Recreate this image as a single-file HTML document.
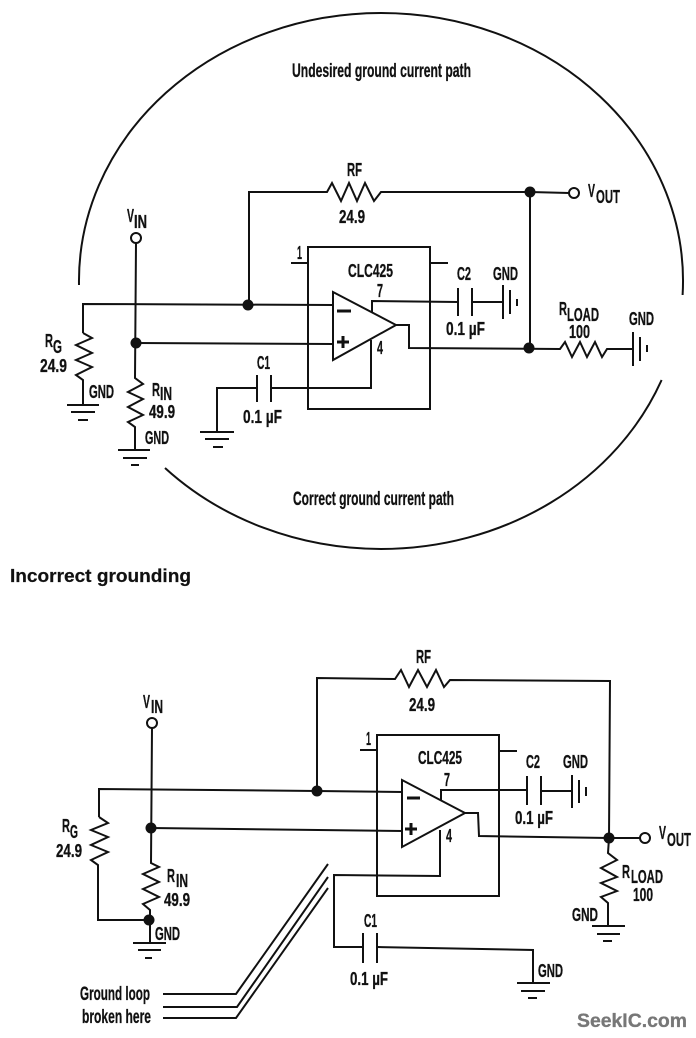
<!DOCTYPE html>
<html><head><meta charset="utf-8"><style>
html,body{margin:0;padding:0;background:#fff}
svg{display:block}
text{font-family:"Liberation Sans",sans-serif;font-weight:bold;font-size:18px;fill:#111;stroke:#111;stroke-width:.3}
.s{font-size:19px}
path,polyline,line{fill:none;stroke:#111;stroke-width:2}
circle{fill:#111;stroke:none}
circle.o{fill:#fff;stroke:#111;stroke-width:2}
</style></head><body>
<svg width="696" height="1038" viewBox="0 0 696 1038" xmlns="http://www.w3.org/2000/svg">
<!-- top diagram -->
<path d="M79 285A302 268 0 0 1 381 13A302 268 0 0 1 682.6 295" />
<path d="M661.6 380A302 268 0 0 1 381 549A302 268 0 0 1 165 468" />
<polyline points="83,333 83,304 333,305"/>
<polyline points="249,305 249,192 327,192 332,183 341,201 349,183 357,201 365,183 374,201 381,192 530,192 569,193"/>
<polyline points="530,192 530,348"/>
<polyline points="83,333 92,338 76,345 92,353 76,360 92,367 76,375 83,380 83,405"/>
<polyline points="136,243 135,378 143,384 128,392 143,399 128,407 143,415 128,422 135,427 135,450"/>
<polyline points="136,343 333,344"/>
<polygon points="333,292 333,360 396,325" fill="none" stroke="#111" stroke-width="2"/>
<rect x="308" y="247" width="122" height="162" fill="none" stroke="#111" stroke-width="2"/>
<line x1="291" y1="263" x2="308" y2="263"/><line x1="430" y1="263" x2="448" y2="263"/>
<polyline points="372,313 372,301 458,302"/>
<line x1="458" y1="288" x2="458" y2="316"/><line x1="472" y1="288" x2="472" y2="316"/>
<line x1="472" y1="302" x2="503" y2="302" />
<line x1="503" y1="285" x2="503" y2="319"/><line x1="510" y1="290" x2="510" y2="314"/><line x1="517" y1="299" x2="517" y2="306"/>
<polyline points="371,340 371,388 272,388"/>
<line x1="257" y1="375" x2="257" y2="402"/><line x1="271" y1="375" x2="271" y2="402"/>
<polyline points="257,388 217,388 217,432"/>
<polyline points="396,325 409,325 409,348 560,349 565,342 572,357 580,342 587,357 595,342 602,357 607,349 633,349"/>
<line x1="633" y1="332" x2="633" y2="366"/><line x1="640" y1="337" x2="640" y2="361"/><line x1="647" y1="345" x2="647" y2="352"/>
<line x1="67" y1="405" x2="99" y2="405"/><line x1="71" y1="412" x2="95" y2="412"/><line x1="78" y1="420" x2="88" y2="420"/>
<line x1="118" y1="450" x2="150" y2="450"/><line x1="123" y1="458" x2="147" y2="458"/><line x1="131" y1="465" x2="139" y2="465"/>
<line x1="200" y1="432" x2="234" y2="432"/><line x1="205" y1="439" x2="229" y2="439"/><line x1="213" y1="447" x2="223" y2="447"/>
<circle cx="248" cy="305" r="5.5"/><circle cx="136" cy="343" r="5.5"/><circle cx="530" cy="192" r="5.5"/><circle cx="529" cy="348" r="5.5"/>
<circle class="o" cx="136" cy="238" r="5"/><circle class="o" cx="574" cy="193" r="5"/>
<line x1="337" y1="311" x2="351" y2="311" style="stroke-width:3"/>
<line x1="337" y1="342" x2="349" y2="342" style="stroke-width:3"/><line x1="343" y1="336" x2="343" y2="348" style="stroke-width:3"/>

<text class="s" x="292" y="77" textLength="179" lengthAdjust="spacingAndGlyphs">Undesired ground current path</text>
<text class="s" x="293" y="505" textLength="161" lengthAdjust="spacingAndGlyphs">Correct ground current path</text>
<text x="10" y="582" textLength="181" lengthAdjust="spacingAndGlyphs" style="font-size:18px;stroke-width:.2">Incorrect grounding</text>
<text x="347" y="176" textLength="15" lengthAdjust="spacingAndGlyphs">RF</text>
<text x="339" y="223" textLength="26" lengthAdjust="spacingAndGlyphs">24.9</text>
<text x="127" y="222" textLength="7" lengthAdjust="spacingAndGlyphs">V</text>
<text x="134" y="228" textLength="13" lengthAdjust="spacingAndGlyphs">IN</text>
<text x="297" y="259" textLength="5" lengthAdjust="spacingAndGlyphs">1</text>
<text x="348" y="277" textLength="45" lengthAdjust="spacingAndGlyphs">CLC425</text>
<text x="377" y="297" textLength="6" lengthAdjust="spacingAndGlyphs">7</text>
<text x="377" y="354" textLength="6" lengthAdjust="spacingAndGlyphs">4</text>
<text x="257" y="369" textLength="13" lengthAdjust="spacingAndGlyphs">C1</text>
<text x="243" y="423" textLength="39" lengthAdjust="spacingAndGlyphs">0.1 µF</text>
<text x="457" y="280" textLength="14" lengthAdjust="spacingAndGlyphs">C2</text>
<text x="493" y="280" textLength="25" lengthAdjust="spacingAndGlyphs">GND</text>
<text x="446" y="335" textLength="39" lengthAdjust="spacingAndGlyphs">0.1 µF</text>
<text x="559" y="315" textLength="8" lengthAdjust="spacingAndGlyphs">R</text>
<text x="567" y="321" textLength="32" lengthAdjust="spacingAndGlyphs">LOAD</text>
<text x="569" y="338" textLength="21" lengthAdjust="spacingAndGlyphs">100</text>
<text x="629" y="325" textLength="25" lengthAdjust="spacingAndGlyphs">GND</text>
<text x="588" y="197" textLength="7" lengthAdjust="spacingAndGlyphs">V</text>
<text x="596" y="203" textLength="24" lengthAdjust="spacingAndGlyphs">OUT</text>
<text x="45" y="347" textLength="8" lengthAdjust="spacingAndGlyphs">R</text>
<text x="53" y="353" textLength="9" lengthAdjust="spacingAndGlyphs">G</text>
<text x="40" y="372" textLength="27" lengthAdjust="spacingAndGlyphs">24.9</text>
<text x="89" y="398" textLength="25" lengthAdjust="spacingAndGlyphs">GND</text>
<text x="152" y="396" textLength="8" lengthAdjust="spacingAndGlyphs">R</text>
<text x="160" y="400" textLength="12" lengthAdjust="spacingAndGlyphs">IN</text>
<text x="149" y="418" textLength="26" lengthAdjust="spacingAndGlyphs">49.9</text>
<text x="145" y="444" textLength="24" lengthAdjust="spacingAndGlyphs">GND</text>

<!-- bottom diagram -->
<polyline points="99,817 99,789 317,791 403,792"/>
<polyline points="317,791 317,678 395,679 401,670 409,687 418,670 427,687 436,670 444,687 450,680 610,681 609,838"/>
<polyline points="99,817 108,823 91,830 108,837 91,845 108,852 91,860 98,865 98,920 150,920"/>
<polyline points="152,728 151,863 159,867 143,874 159,882 143,889 159,897 143,904 150,910 150,943"/>
<polyline points="151,828 403,831"/>
<polygon points="402,780 402,847 465,813" fill="none" stroke="#111" stroke-width="2"/>
<rect x="377" y="735" width="122" height="161" fill="none" stroke="#111" stroke-width="2"/>
<line x1="360" y1="750" x2="377" y2="750"/><line x1="499" y1="751" x2="517" y2="751"/>
<polyline points="441,801 441,790 527,790"/>
<line x1="527" y1="776" x2="527" y2="805"/><line x1="541" y1="776" x2="541" y2="805"/>
<line x1="541" y1="791" x2="572" y2="791"/>
<line x1="572" y1="775" x2="572" y2="808"/><line x1="579" y1="780" x2="579" y2="803"/><line x1="586" y1="787" x2="586" y2="796"/>
<polyline points="440,830 440,876 334,875 334,947 363,947"/>
<line x1="363" y1="933" x2="363" y2="963"/><line x1="377" y1="933" x2="377" y2="963"/>
<polyline points="377,947 533,950 533,983"/>
<polyline points="465,813 478,813 479,836 609,838 640,838"/>
<polyline points="609,838 608,853 617,860 601,868 617,877 601,883 617,891 601,897 608,903 608,926"/>
<line x1="592" y1="926" x2="625" y2="926"/><line x1="597" y1="934" x2="620" y2="934"/><line x1="603" y1="941" x2="612" y2="941"/>
<line x1="133" y1="943" x2="166" y2="943"/><line x1="138" y1="950" x2="161" y2="950"/><line x1="145" y1="958" x2="152" y2="958"/>
<line x1="517" y1="983" x2="550" y2="983"/><line x1="521" y1="991" x2="545" y2="991"/><line x1="528" y1="998" x2="537" y2="998"/>
<polyline points="328,864 236,994 163,994"/>
<polyline points="328,877 237,1007 163,1007"/>
<polyline points="328,888 236,1018 163,1018"/>
<circle cx="317" cy="791" r="5.5"/><circle cx="151" cy="828" r="5.5"/><circle cx="149" cy="920" r="5.5"/><circle cx="609" cy="838" r="5.5"/>
<circle class="o" cx="152" cy="723" r="5"/><circle class="o" cx="645" cy="838" r="5"/>
<line x1="407" y1="798" x2="420" y2="798" style="stroke-width:3"/>
<line x1="405" y1="829" x2="417" y2="829" style="stroke-width:3"/><line x1="411" y1="823" x2="411" y2="835" style="stroke-width:3"/>

<text x="143" y="708" textLength="7" lengthAdjust="spacingAndGlyphs">V</text>
<text x="151" y="713" textLength="12" lengthAdjust="spacingAndGlyphs">IN</text>
<text x="416" y="663" textLength="15" lengthAdjust="spacingAndGlyphs">RF</text>
<text x="409" y="711" textLength="26" lengthAdjust="spacingAndGlyphs">24.9</text>
<text x="366" y="745" textLength="5" lengthAdjust="spacingAndGlyphs">1</text>
<text x="418" y="764" textLength="44" lengthAdjust="spacingAndGlyphs">CLC425</text>
<text x="444" y="786" textLength="6" lengthAdjust="spacingAndGlyphs">7</text>
<text x="446" y="842" textLength="6" lengthAdjust="spacingAndGlyphs">4</text>
<text x="526" y="768" textLength="14" lengthAdjust="spacingAndGlyphs">C2</text>
<text x="563" y="768" textLength="25" lengthAdjust="spacingAndGlyphs">GND</text>
<text x="515" y="824" textLength="38" lengthAdjust="spacingAndGlyphs">0.1 µF</text>
<text x="659" y="839" textLength="7" lengthAdjust="spacingAndGlyphs">V</text>
<text x="667" y="846" textLength="24" lengthAdjust="spacingAndGlyphs">OUT</text>
<text x="622" y="878" textLength="8" lengthAdjust="spacingAndGlyphs">R</text>
<text x="631" y="883" textLength="32" lengthAdjust="spacingAndGlyphs">LOAD</text>
<text x="633" y="901" textLength="20" lengthAdjust="spacingAndGlyphs">100</text>
<text x="572" y="921" textLength="26" lengthAdjust="spacingAndGlyphs">GND</text>
<text x="364" y="927" textLength="13" lengthAdjust="spacingAndGlyphs">C1</text>
<text x="350" y="985" textLength="38" lengthAdjust="spacingAndGlyphs">0.1 µF</text>
<text x="538" y="977" textLength="25" lengthAdjust="spacingAndGlyphs">GND</text>
<text x="62" y="832" textLength="8" lengthAdjust="spacingAndGlyphs">R</text>
<text x="70" y="838" textLength="8" lengthAdjust="spacingAndGlyphs">G</text>
<text x="56" y="857" textLength="26" lengthAdjust="spacingAndGlyphs">24.9</text>
<text x="167" y="882" textLength="8" lengthAdjust="spacingAndGlyphs">R</text>
<text x="176" y="887" textLength="12" lengthAdjust="spacingAndGlyphs">IN</text>
<text x="164" y="906" textLength="26" lengthAdjust="spacingAndGlyphs">49.9</text>
<text x="155" y="940" textLength="25" lengthAdjust="spacingAndGlyphs">GND</text>
<text class="s" x="80" y="1000" textLength="70" lengthAdjust="spacingAndGlyphs">Ground loop</text>
<text class="s" x="82" y="1023" textLength="69" lengthAdjust="spacingAndGlyphs">broken here</text>
<text x="577" y="1027" textLength="110" lengthAdjust="spacingAndGlyphs" style="font-size:19px;fill:#777;stroke:#777">SeekIC.com</text>
</svg>
</body></html>
